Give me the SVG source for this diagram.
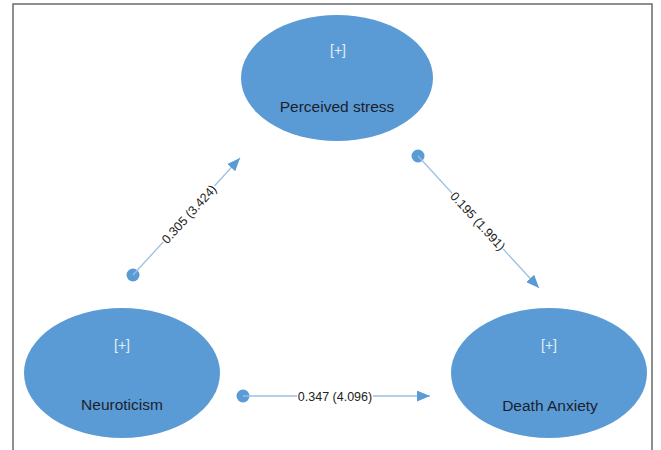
<svg xmlns="http://www.w3.org/2000/svg" width="661" height="450" viewBox="0 0 661 450">
<style>
.node{fill:#5b9bd5}
.plus{font-family:"Liberation Sans",Arial,sans-serif;font-size:14px;fill:#e4ecf6;text-anchor:middle}
.name{font-family:"Liberation Sans",Arial,sans-serif;font-size:15.5px;fill:#1a1f2e;text-anchor:middle}
.edge{stroke:#9dbfe0;stroke-width:1.3;fill:none;marker-end:url(#arr)}
.dot{fill:#5b9bd5}
.lbl{font-family:"Liberation Sans",Arial,sans-serif;font-size:12.5px;fill:#222;text-anchor:middle}
.bg{fill:#fff}
</style>
<defs>
<marker id="arr" viewBox="0 0 12 10" refX="12" refY="5" markerWidth="13" markerHeight="11" markerUnits="userSpaceOnUse" orient="auto">
<path d="M0,0 L12,5 L0,10 z" fill="#5b9bd5"/>
</marker>
</defs>
<rect width="661" height="450" fill="#fff"/>
<path d="M13,450 V4 H652 V450" fill="none" stroke="#6b6b6b" stroke-width="1.5"/>
<g id="connectors">
<g id="e1">
<circle class="dot" cx="133" cy="275" r="6.5"/>
<line class="edge" x1="133" y1="275" x2="240" y2="158"/>
<g transform="translate(189,214) rotate(-47.6)">
<rect class="bg" x="-38" y="-7" width="76" height="13"/>
<text class="lbl" x="0" y="4.5">0.305 (3.424)</text>
</g>
</g>
<g id="e2">
<circle class="dot" cx="418" cy="156" r="6.5"/>
<line class="edge" x1="418" y1="156" x2="539" y2="288"/>
<g transform="translate(478,221) rotate(47.5)">
<rect class="bg" x="-38" y="-7" width="76" height="13"/>
<text class="lbl" x="0" y="4.5">0.195 (1.991)</text>
</g>
</g>
<g id="e3">
<circle class="dot" cx="243" cy="396" r="6.5"/>
<line class="edge" x1="243" y1="396" x2="430" y2="396"/>
<rect class="bg" x="297" y="389" width="76" height="13"/>
<text class="lbl" x="335" y="400.5">0.347 (4.096)</text>
</g>
</g>
<g id="perceived-stress">
<ellipse class="node" cx="337" cy="78" rx="96" ry="63"/>
<text class="plus" x="338" y="55">[+]</text>
<text class="name" x="337" y="112">Perceived stress</text>
</g>
<g id="neuroticism">
<ellipse class="node" cx="122" cy="373" rx="98" ry="65"/>
<text class="plus" x="122" y="350">[+]</text>
<text class="name" x="122" y="410">Neuroticism</text>
</g>
<g id="death-anxiety">
<ellipse class="node" cx="549" cy="373" rx="98" ry="65"/>
<text class="plus" x="549" y="350">[+]</text>
<text class="name" x="550" y="411">Death Anxiety</text>
</g>
</svg>
